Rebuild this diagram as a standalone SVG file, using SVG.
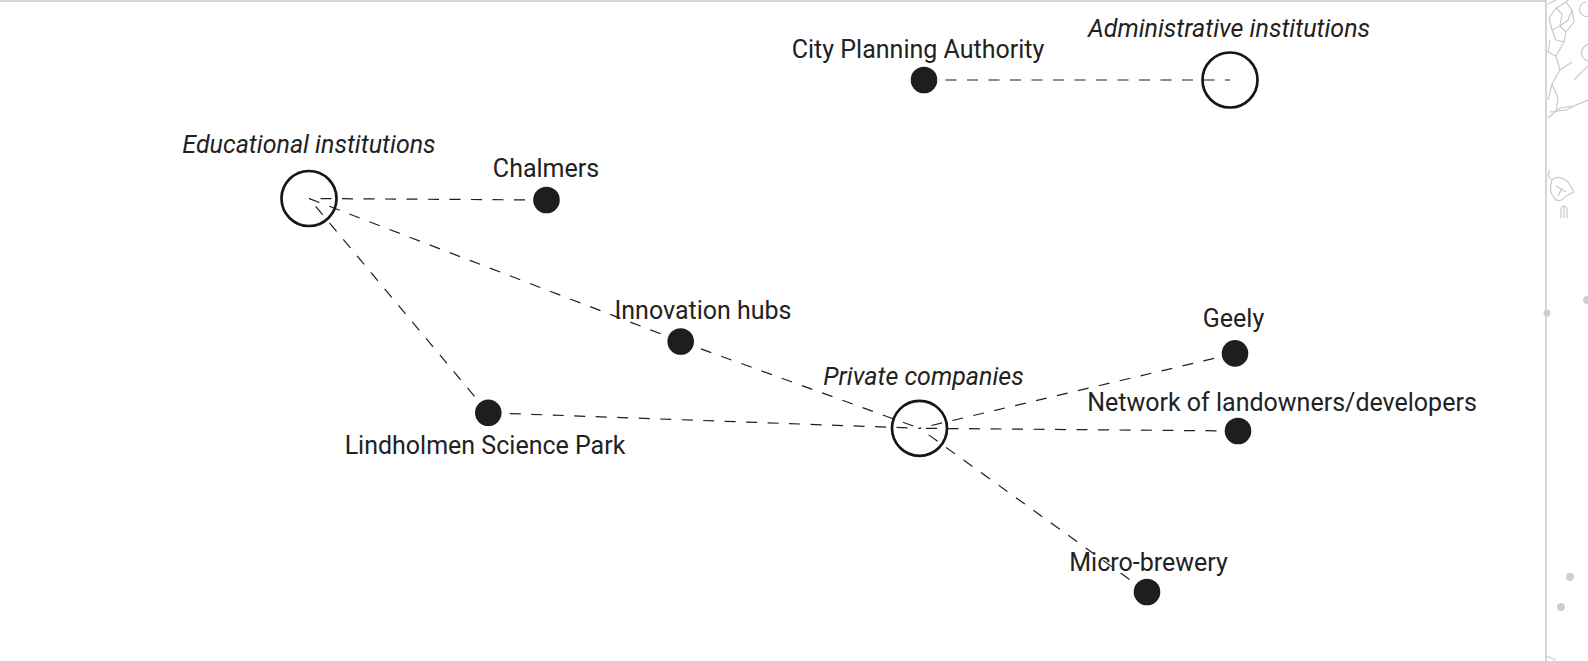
<svg xmlns="http://www.w3.org/2000/svg" width="1588" height="661" viewBox="0 0 1588 661">
  <style>
    .link { stroke: #1e1e1e; stroke-width: 1.2; stroke-dasharray: 11 10.5; fill: none; }
    .actor { fill: #1e1e1e; }
    .group { fill: none; stroke: #161616; stroke-width: 2.7; }
    .label { font-family: Roboto, "Liberation Sans", sans-serif; font-size: 25px; fill: #222; text-anchor: middle; }
    .category { font-style: italic; }
    .sketch { fill: none; stroke: #c3cbce; stroke-width: 1.2; stroke-linejoin: round; }
    .sketch-dot { fill: #c9d0d3; }
  </style>

  <rect x="0" y="0" width="1588" height="661" fill="#ffffff"/>

  <!-- side panel with line drawings -->
  <g id="side-panel">
    <line x1="0" y1="1" x2="1546" y2="1" stroke="#c3cbce" stroke-width="1.5"/>
    <line x1="1546" y1="0" x2="1546" y2="661" stroke="#c3cbce" stroke-width="1.5"/>
    <path class="sketch" d="M1548 4 L1556 0 M1549 18 L1556 8 L1562 14 L1560 26 L1552 30 Z M1556 8 L1566 2 L1572 10 L1568 20 L1560 26 M1566 2 L1570 -2 M1572 10 L1574 22 L1566 32 L1560 26 M1552 30 L1556 40 L1564 42 L1566 32 M1550 40 L1548 52 L1556 56 L1564 42 M1556 56 L1560 70 L1552 84 L1548 100 M1560 70 L1572 62 M1552 84 L1558 98 L1556 112 M1548 118 L1560 108 L1574 106 L1588 100 M1550 112 L1566 110 L1578 104"/>
    <path class="sketch" d="M1586 2 Q1578 4 1580 12 Q1584 18 1588 16 M1588 44 Q1580 48 1582 56 Q1586 62 1588 60 M1574 80 L1588 66"/>
    <path class="sketch" d="M1550 170 Q1546 176 1552 180 M1552 180 Q1558 174 1568 182 L1574 192 L1566 196 Q1560 204 1554 198 Q1548 190 1552 180 Z M1556 186 L1566 192 M1558 196 L1562 188"/>
    <path class="sketch" d="M1561 218 L1561 208 Q1564 204 1567 208 L1567 218 M1564 206 L1564 218"/>
    <circle class="sketch-dot" cx="1587" cy="300" r="4"/>
    <circle class="sketch-dot" cx="1547" cy="313" r="3.5"/>
    <circle class="sketch-dot" cx="1570" cy="577" r="4"/>
    <circle class="sketch-dot" cx="1561" cy="607" r="4"/>
    <path class="sketch" d="M1546 656 L1556 660"/>
  </g>

  <!-- dashed relations, drawn centre to centre beneath the nodes -->
  <g id="connectors">
    <line class="link" x1="924" y1="80" x2="1230" y2="80"/>
    <line class="link" x1="546.5" y1="200" x2="309" y2="198.5"/>
    <line class="link" x1="680.7" y1="341.5" x2="309" y2="198.5"/>
    <line class="link" x1="488.3" y1="412.8" x2="309" y2="198.5"/>
    <line class="link" x1="680.7" y1="341.5" x2="919.5" y2="428.3"/>
    <line class="link" x1="488.3" y1="412.8" x2="919.5" y2="428.3"/>
    <line class="link" x1="1235" y1="353.4" x2="919.5" y2="428.3"/>
    <line class="link" x1="1238" y1="431" x2="919.5" y2="428.3"/>
    <line class="link" x1="1147" y1="592" x2="919.5" y2="428.3"/>
  </g>

  <g id="educational-institutions">
    <circle class="group" cx="309" cy="198.5" r="27.5"/>
    <text class="label category" x="309" y="153">Educational institutions</text>
  </g>
  <g id="administrative-institutions">
    <circle class="group" cx="1230" cy="80" r="27.5"/>
    <text class="label category" x="1229" y="37">Administrative institutions</text>
  </g>
  <g id="private-companies">
    <circle class="group" cx="919.5" cy="428.3" r="27.5"/>
    <text class="label category" x="923.5" y="385">Private companies</text>
  </g>

  <g id="city-planning-authority">
    <circle class="actor" cx="924" cy="80" r="13.3"/>
    <text class="label" x="918" y="58">City Planning Authority</text>
  </g>
  <g id="chalmers">
    <circle class="actor" cx="546.5" cy="200" r="13.3"/>
    <text class="label" x="546" y="177">Chalmers</text>
  </g>
  <g id="innovation-hubs">
    <circle class="actor" cx="680.7" cy="341.5" r="13.3"/>
    <text class="label" x="703" y="319">Innovation hubs</text>
  </g>
  <g id="lindholmen-science-park">
    <circle class="actor" cx="488.3" cy="412.8" r="13.3"/>
    <text class="label" x="485" y="454">Lindholmen Science Park</text>
  </g>
  <g id="geely">
    <circle class="actor" cx="1235" cy="353.4" r="13.3"/>
    <text class="label" x="1233.5" y="327">Geely</text>
  </g>
  <g id="network-of-landowners">
    <circle class="actor" cx="1238" cy="431" r="13.3"/>
    <text class="label" x="1282" y="411">Network of landowners/developers</text>
  </g>
  <g id="micro-brewery">
    <circle class="actor" cx="1147" cy="592" r="13.3"/>
    <text class="label" x="1148.5" y="571">Micro-brewery</text>
  </g>
</svg>
